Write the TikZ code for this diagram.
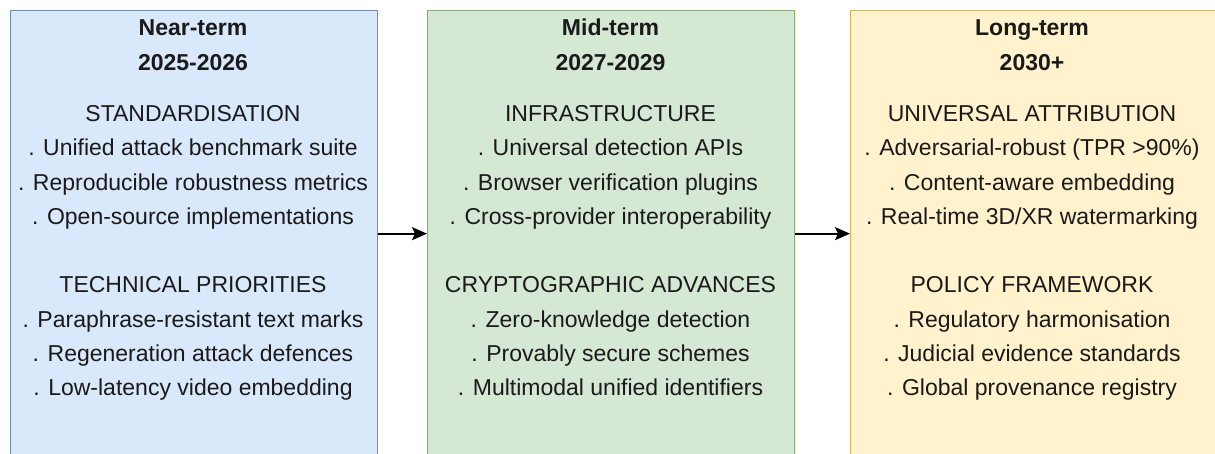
\documentclass[tikz,border=0pt]{standalone}
\usepackage{fontspec}
\setmainfont{Liberation Sans}
\usetikzlibrary{arrows.meta}
\definecolor{bfill}{HTML}{DAE8FC}\definecolor{bline}{HTML}{6C8EBF}
\definecolor{gfill}{HTML}{D5E8D4}\definecolor{gline}{HTML}{82B366}
\definecolor{ofill}{HTML}{FFF2CC}\definecolor{oline}{HTML}{D6B656}
\definecolor{txt}{HTML}{1A1A1A}
\tikzset{
  phase/.style={draw, line width=1.3pt, minimum width=367pt, minimum height=446pt, anchor=north west, inner sep=0pt},
  hd/.style={anchor=base, inner sep=0pt, text=txt, font=\fontsize{23}{28}\selectfont\bfseries},
  ln/.style={anchor=base, inner sep=0pt, text=txt, font=\fontsize{23}{28}\selectfont},
  flow/.style={line width=2pt, -{Stealth[length=15pt,width=13pt,inset=3pt]}},
}
\begin{document}
\begin{tikzpicture}[x=1pt,y=-1pt]
\useasboundingbox (0,0) rectangle (1215,453);
\node[phase, fill=bfill, draw=bline] (b1) at (10,10) {};
\node[phase, fill=gfill, draw=gline] (b2) at (427,10) {};
\node[phase, fill=ofill, draw=oline, minimum width=370pt] (b3) at (850,10) {};
% column 1
\node[hd] (a1) at (193,35) {Near-term};
\node[hd] (a2) at (193,70) {2025-2026};
\node[ln] (a3) at (193,121) {STANDARDISATION};
\node[ln] (a4) at (193,155.5) {. Unified attack benchmark suite};
\node[ln] (a5) at (193,190) {. Reproducible robustness metrics};
\node[ln] (a6) at (193,224) {. Open-source implementations};
\node[ln] (a7) at (193,292.5) {TECHNICAL PRIORITIES};
\node[ln] (a8) at (193,327) {. Paraphrase-resistant text marks};
\node[ln] (a9) at (193,361) {. Regeneration attack defences};
\node[ln] (a10) at (193,395) {. Low-latency video embedding};
% column 2
\node[hd] (c1) at (610.5,35) {Mid-term};
\node[hd] (c2) at (610.5,70) {2027-2029};
\node[ln] (c3) at (610.5,121) {INFRASTRUCTURE};
\node[ln] (c4) at (610.5,155.5) {. Universal detection APIs};
\node[ln] (c5) at (610.5,190) {. Browser verification plugins};
\node[ln] (c6) at (610.5,224) {. Cross-provider interoperability};
\node[ln] (c7) at (610.5,292.5) {CRYPTOGRAPHIC ADVANCES};
\node[ln] (c8) at (610.5,327) {. Zero-knowledge detection};
\node[ln] (c9) at (610.5,361) {. Provably secure schemes};
\node[ln] (c10) at (610.5,395) {. Multimodal unified identifiers};
% column 3
\node[hd] (d1) at (1032,35) {Long-term};
\node[hd] (d2) at (1032,70) {2030+};
\node[ln] (d3) at (1032,121) {UNIVERSAL ATTRIBUTION};
\node[ln] (d4) at (1032,155.5) {. Adversarial-robust (TPR >90\%)};
\node[ln] (d5) at (1032,190) {. Content-aware embedding};
\node[ln] (d6) at (1032,224) {. Real-time 3D/XR watermarking};
\node[ln] (d7) at (1032,292.5) {POLICY FRAMEWORK};
\node[ln] (d8) at (1032,327) {. Regulatory harmonisation};
\node[ln] (d9) at (1032,361) {. Judicial evidence standards};
\node[ln] (d10) at (1032,395) {. Global provenance registry};
% arrows
\draw[flow] (b1.east) -- (b2.west);
\draw[flow] (b2.east) -- (b3.west);
\end{tikzpicture}
\end{document}
